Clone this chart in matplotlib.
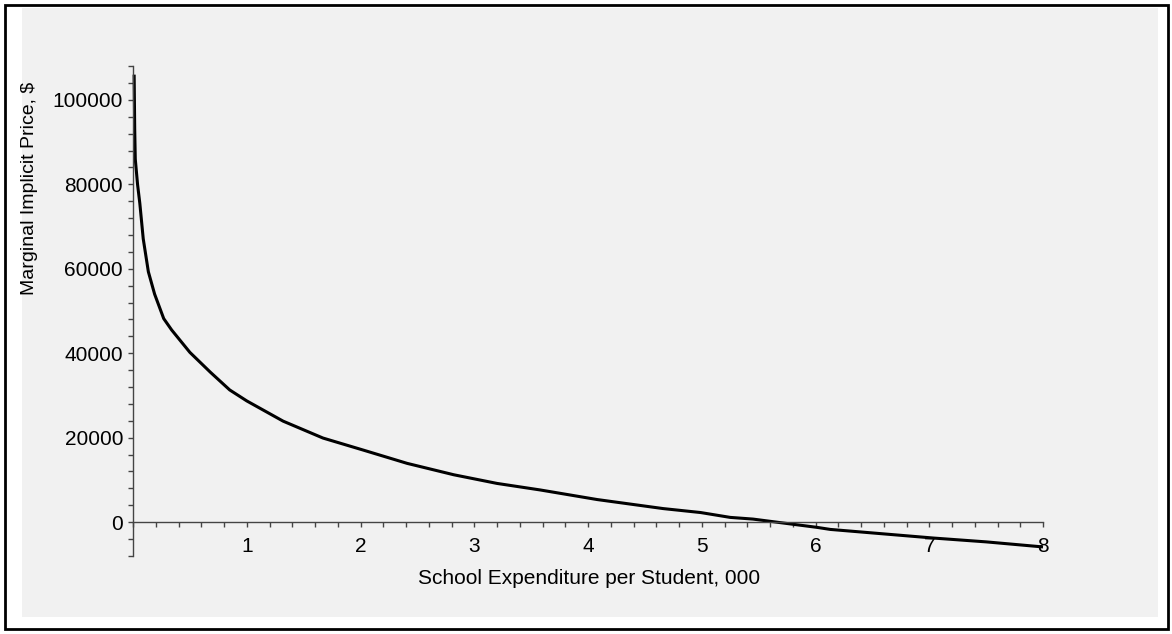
import numpy as np
import matplotlib.pyplot as plt
from matplotlib.patches import Rectangle
from matplotlib.ticker import MultipleLocator

plt.rcParams['font.family'] = ['Liberation Sans', 'DejaVu Sans']

# values
expenditure = [0.01, 0.015, 0.02, 0.04, 0.06, 0.09, 0.135, 0.19, 0.27, 0.34,
               0.5, 0.68, 0.85, 1.0, 1.32, 1.67, 2.03, 2.41, 2.82,
               3.2, 3.58, 4.08, 4.66, 4.99, 5.25, 5.45, 5.69, 6.01, 6.13,
               7.04, 7.5, 8.0]
price = [106000, 93000, 86000, 80000, 75500, 67100, 59300, 54000, 48200, 45500,
         40200, 35500, 31300, 28700, 23900, 19900, 17000, 13900, 11200,
         9150, 7600, 5330, 3190, 2250, 1100, 700, -140, -1250, -1750,
         -3800, -4700, -5900]

y_major = [0, 20000, 40000, 60000, 80000, 100000]
x_major = [1, 2, 3, 4, 5, 6, 7, 8]

W, H = 1172, 634
fig = plt.figure(figsize=(W / 100, H / 100), dpi=100)

# frame and grey panel like the original screenshot
fig.patches.append(Rectangle((22 / W, 1 - 617 / H), (1158 - 22) / W, (617 - 8) / H,
                             transform=fig.transFigure, facecolor='#f1f1f1',
                             edgecolor='none', zorder=-2))
fig.patches.append(Rectangle((5 / W, 1 - 629 / H), (1168 - 5) / W, (629 - 5) / H,
                             transform=fig.transFigure, facecolor='none',
                             edgecolor='black', linewidth=2, zorder=-1))

left, right = 133 / W, 1043 / W
bottom, top = 1 - 555.8 / H, 1 - 66.2 / H
ax = fig.add_axes([left, bottom, right - left, top - bottom])
ax.set_zorder(2)
ax.patch.set_alpha(0)

ax.plot(expenditure, price, color='black', linewidth=2.2, solid_capstyle='butt',
        clip_on=False)

ax.set_xlim(0, 8)
ax.set_ylim(-8000, 108000)

for s in ['top', 'right']:
    ax.spines[s].set_visible(False)
ax.spines['bottom'].set_position(('data', 0))
for s in ['left', 'bottom']:
    ax.spines[s].set_color('#444444')
    ax.spines[s].set_linewidth(1.0)

ax.set_xticks(x_major)
ax.set_xticklabels([str(v) for v in x_major])
ax.xaxis.set_minor_locator(MultipleLocator(0.2))
ax.set_yticks(y_major)
ax.set_yticklabels([str(v) for v in y_major])
ax.yaxis.set_minor_locator(MultipleLocator(4000))

ax.tick_params(axis='both', which='both', direction='out', length=3.6,
               width=1.0, color='#444444', labelsize=15, labelcolor='black')
ax.tick_params(axis='x', which='major', pad=7.5)
ax.tick_params(axis='y', which='major', pad=3.6)

fig.text(589 / W, 1 - 578 / H, 'School Expenditure per Student, 000',
         ha='center', va='center', fontsize=15)
fig.text(30 / W, 1 - 188 / H, 'Marginal Implicit Price, $',
         ha='center', va='center', rotation=90, fontsize=14)

fig.savefig('out.png', dpi=100)
